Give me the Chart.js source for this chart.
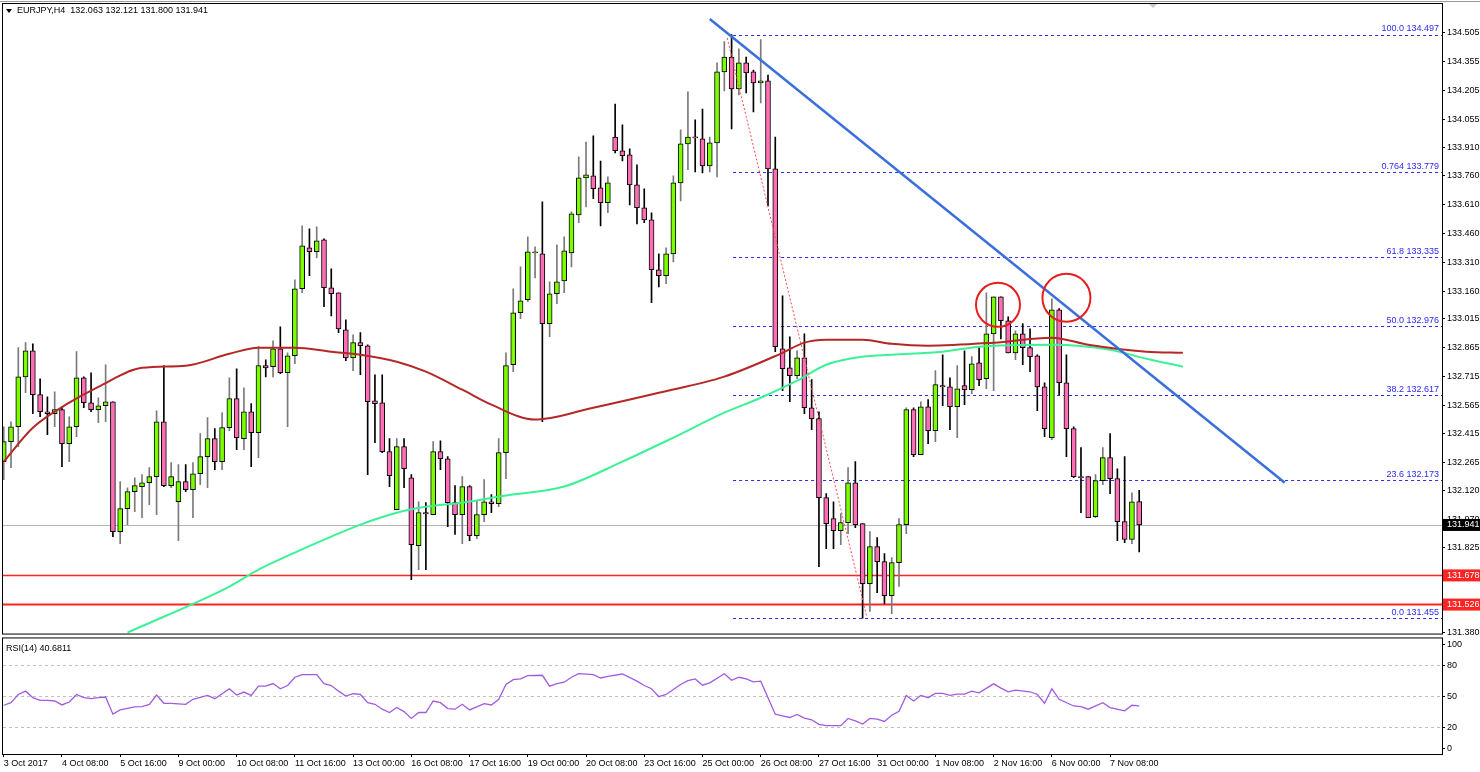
<!DOCTYPE html>
<html>
<head>
<meta charset="utf-8">
<script src="https://cdn.jsdelivr.net/npm/chart.js@4.4.0/dist/chart.umd.min.js"></script>
<style>
  body { margin: 0; background: #fff; }
  #main { position: absolute; left: 0; top: 0; }
  #rsi { position: absolute; left: 0; top: 636px; }
</style>
</head>
<body>
<canvas id="main" width="1480" height="636"></canvas>
<canvas id="rsi" width="1480" height="136"></canvas>
<script>
// EURJPY H4 candles
const open = [132.271,132.375,132.453,132.713,132.849,132.620,132.531,132.521,132.542,132.365,
132.453,132.708,132.578,132.542,132.562,132.583,131.906,132.026,132.115,132.141,
132.161,132.193,132.479,132.146,132.062,132.167,132.125,132.208,132.297,132.391,
132.271,132.448,132.599,132.391,132.531,132.422,132.771,132.766,132.859,132.734,
132.823,133.172,133.385,133.365,133.427,133.177,133.151,132.958,132.812,132.891,
132.875,132.588,132.578,132.323,132.021,132.349,132.187,131.833,132.005,131.995,
132.323,132.286,132.057,131.995,132.141,131.885,131.995,132.062,132.052,132.318,
132.776,133.047,133.115,133.359,133.354,132.990,133.146,133.213,133.359,133.557,
133.750,133.760,133.698,133.620,133.963,133.891,133.870,133.713,133.594,133.531,
133.271,133.240,133.354,133.724,133.927,133.963,133.953,133.812,133.932,134.302,
134.380,134.213,134.349,134.302,134.245,134.255,133.797,132.859,132.760,132.719,
132.812,132.552,132.495,132.083,131.974,131.911,131.953,132.161,131.948,131.635,
131.828,131.750,131.573,131.745,131.943,132.542,132.307,132.557,132.432,132.667,
132.661,132.557,132.667,132.646,132.786,132.703,132.937,133.130,133.005,132.838,
132.937,132.865,132.823,132.661,132.396,133.062,132.682,132.443,132.193,132.193,
131.984,132.172,132.292,132.182,131.958,131.865,132.063];
const high = [132.453,132.479,132.865,132.891,132.885,132.703,132.609,132.635,132.557,132.505,
132.844,132.713,132.734,132.604,132.776,132.583,132.167,132.135,132.187,132.203,
132.240,132.536,132.771,132.266,132.255,132.255,132.266,132.417,132.500,132.443,
132.526,132.708,132.755,132.656,132.573,132.870,132.802,132.901,132.974,132.838,
133.219,133.500,133.484,133.495,133.432,133.276,133.151,133.010,132.932,132.943,
132.880,132.724,132.724,132.391,132.391,132.391,132.203,132.062,132.057,132.375,
132.380,132.297,132.146,132.193,132.146,132.068,132.177,132.099,132.391,132.838,
133.172,133.286,133.443,133.391,133.625,133.208,133.401,133.443,133.573,133.859,
133.937,133.969,133.838,133.755,134.135,134.026,133.901,133.818,133.693,133.568,
133.354,133.385,133.760,134.000,134.198,134.052,134.109,133.963,134.349,134.460,
134.497,134.422,134.380,134.312,134.470,134.286,133.963,133.135,132.922,132.849,
132.937,132.698,132.531,132.104,132.062,132.000,132.240,132.271,131.948,131.906,
131.875,131.792,131.771,131.974,132.552,132.552,132.583,132.594,132.745,132.828,
132.708,132.771,132.849,132.818,132.865,133.151,133.130,133.130,133.026,132.953,
132.990,132.963,132.828,132.682,133.120,133.068,132.828,132.453,132.344,132.193,
132.203,132.344,132.417,132.234,132.297,132.109,132.121];
const low = [132.177,132.240,132.349,132.630,132.521,132.505,132.411,132.453,132.245,132.271,
132.401,132.552,132.531,132.474,132.479,131.880,131.844,131.943,132.010,131.979,
132.047,131.995,132.141,132.135,131.859,132.115,131.979,132.151,132.135,132.229,
132.229,132.432,132.333,132.333,132.245,132.292,132.713,132.713,132.729,132.453,
132.781,133.151,133.240,133.333,133.078,133.031,132.943,132.797,132.745,132.724,
132.203,132.370,132.318,132.141,132.021,132.135,131.656,131.708,131.708,131.995,
132.229,131.932,131.891,131.844,131.859,131.870,131.958,132.005,132.036,132.182,
132.740,133.016,133.104,133.229,132.479,132.922,133.094,133.151,133.286,133.516,
133.599,133.641,133.500,133.568,133.880,133.838,133.609,133.510,133.516,133.099,
133.182,133.198,133.312,133.630,133.792,133.781,133.776,133.781,133.755,134.203,
134.005,134.182,134.193,134.094,134.141,133.604,132.844,132.641,132.583,132.703,
132.521,132.437,131.724,131.818,131.818,131.838,131.896,131.927,131.455,131.490,
131.588,131.531,131.479,131.620,131.896,132.297,132.307,132.365,132.375,132.562,
132.437,132.396,132.568,132.625,132.667,132.651,132.641,132.911,132.838,132.802,
132.776,132.740,132.536,132.401,132.385,132.620,132.297,132.187,132.005,131.979,
131.979,132.151,132.104,131.859,131.849,131.844,131.800];
const close = [132.375,132.453,132.713,132.849,132.620,132.531,132.521,132.542,132.365,132.453,
132.708,132.578,132.542,132.562,132.583,131.906,132.026,132.115,132.146,132.161,
132.193,132.479,132.146,132.193,132.167,132.125,132.208,132.297,132.391,132.271,
132.448,132.599,132.396,132.531,132.422,132.771,132.760,132.859,132.734,132.823,
133.172,133.396,133.365,133.422,133.177,133.146,132.963,132.812,132.891,132.875,
132.583,132.573,132.323,132.198,132.349,132.234,131.838,132.005,131.999,132.323,
132.286,132.057,131.995,132.141,131.885,131.995,132.062,132.052,132.318,132.771,
133.047,133.109,133.365,133.365,132.990,133.146,133.208,133.370,133.562,133.750,
133.766,133.693,133.620,133.724,133.891,133.865,133.713,133.594,133.531,133.271,
133.240,133.354,133.724,133.927,133.963,133.958,133.812,133.932,134.302,134.380,
134.213,134.349,134.297,134.245,134.255,133.797,132.870,132.755,132.719,132.812,
132.552,132.495,132.083,131.948,131.911,131.953,132.161,131.943,131.635,131.828,
131.750,131.573,131.745,131.943,132.542,132.307,132.557,132.432,132.672,132.661,
132.557,132.651,132.646,132.781,132.698,132.937,133.130,133.005,132.838,132.937,
132.865,132.818,132.661,132.443,133.062,132.682,132.443,132.193,132.187,131.979,
132.172,132.292,132.182,131.958,131.865,132.062,131.941];

// moving averages, sampled along the drawn curves
const maSlowIdx = [0,4,9,13,19,25,31,35,40,45,49,54,58,63,67,73,81,90,99,107,110,113,118,122,127,136,144,149,157,162];
const maSlowVal = [132.271,132.448,132.578,132.661,132.760,132.771,132.833,132.865,132.865,132.844,132.828,132.792,132.740,132.646,132.568,132.490,132.552,132.630,132.714,132.838,132.891,132.906,132.906,132.885,132.875,132.891,132.917,132.880,132.844,132.838];
const maLongIdx = [17,31,35,40,45,49,54,58,63,69,77,85,92,99,104,109,113,118,122,129,134,144,152,157,162];
const maLongVal = [131.380,131.620,131.708,131.797,131.880,131.943,132.005,132.036,132.057,132.094,132.141,132.271,132.396,132.526,132.604,132.693,132.776,132.818,132.828,132.844,132.870,132.880,132.854,132.807,132.766];

// RSI(14)
const rsiIdx = [0,1,2,3,4,5,6,7,8,9,10,11,12,13,14,15,16,18,19,20,21,22,23,25,26,28,29,31,32,33,34,35,36,37,38,39,40,41,43,44,45,46,47,48,49,50,51,52,53,54,55,56,57,58,59,60,61,62,63,64,66,67,68,69,70,71,72,
74,75,76,77,78,79,80,81,82,83,85,87,88,89,90,91,93,94,95,96,97,99,100,101,102,103,104,105,106,107,108,109,110,111,112,113,115,116,117,118,119,120,121,122,123,124,125,126,127,128,129,130,131,132,133,134,136,137,138,139,141,142,143,144,145,147,148,149,151,152,154,155,156];
const rsiVal = [41.3,43.8,51.7,54.9,48.6,46.0,46.0,45.4,41.6,44.4,51.7,48.6,47.6,48.6,49.2,32.7,36.8,39.7,40.0,42.2,51.1,43.2,43.2,42.2,47.0,50.8,47.6,57.2,51.1,54.0,50.8,59.7,59.7,62.2,57.2,60.3,68.3,70.8,70.8,62.2,60.3,54.9,50.2,52.4,51.7,43.8,42.2,37.5,34.3,39.1,35.2,28.6,34.3,34.3,45.4,43.8,38.1,37.5,42.2,36.8,42.9,41.6,47.0,61.3,66.0,66.7,69.8,
70.2,59.7,62.2,63.5,68.3,71.7,71.4,70.8,67.6,69.2,71.4,64.5,60.3,57.2,49.5,51.7,61.3,65.1,66.7,60.6,62.9,71.7,65.4,68.3,66.7,63.8,64.5,48.6,32.7,31.1,29.5,32.4,28.9,27.3,22.9,21.6,21.6,28.6,26.3,23.2,28.6,28.0,25.7,31.7,35.5,50.8,45.4,50.8,48.6,52.7,52.7,50.8,52.1,52.1,54.9,53.3,61.9,57.8,54.3,55.9,54.3,51.7,43.2,57.2,47.0,40.6,40.0,37.5,43.8,39.1,35.9,41.3,40.7];

// axis labels
const priceTicks = [134.505,134.355,134.205,134.055,133.910,133.760,133.610,133.460,133.310,133.160,133.015,132.865,132.715,132.565,132.415,132.265,132.120,131.970,131.825,131.380];
const dateLabels = ["3 Oct 2017","4 Oct 08:00","5 Oct 16:00","9 Oct 00:00","10 Oct 08:00","11 Oct 16:00","13 Oct 00:00","16 Oct 08:00","17 Oct 16:00","19 Oct 00:00","20 Oct 08:00","23 Oct 16:00","25 Oct 00:00","26 Oct 08:00","27 Oct 16:00","31 Oct 00:00","1 Nov 08:00","2 Nov 16:00","6 Nov 00:00","7 Nov 08:00"];
const rsiTicks = [0,20,50,80,100];

// drawn objects
const fibNames = ["100.0","0.764","61.8","50.0","38.2","23.6","0.0"];
const fibPrices = [134.497,133.779,133.335,132.976,132.617,132.173,131.455];
const supportLines = [131.678,131.526];
const lastPrice = 131.941;
const trendBlue = [[97,134.578],[176,132.161]];
const trendRed = [[99.4,134.479],[118.6,131.458]];
const circles = [[136.6,133.088,22],[146,133.125,24]];

const FONT = "Liberation Sans";
const XMIN = -0.1, XMAX = 197.6;

const wicks = open.map((o, i) => ({x: i, y: [low[i], high[i]]}));
const bodies = open.map((o, i) => ({x: i, y: [Math.min(o, close[i]), Math.max(o, close[i])]}));
const up = open.map((o, i) => close[i] >= o);

const overlay = {
  id: "overlay",
  beforeDatasetsDraw(chart) {
    const {ctx, chartArea: a, scales: {x, y}} = chart;
    ctx.save();
    ctx.beginPath(); ctx.rect(a.left, a.top, a.right - a.left, a.bottom - a.top); ctx.clip();
    // last price
    ctx.strokeStyle = "#b4b4b4"; ctx.lineWidth = 1;
    let py = Math.round(y.getPixelForValue(lastPrice)) + 0.5;
    ctx.beginPath(); ctx.moveTo(a.left, py); ctx.lineTo(a.right, py); ctx.stroke();
    // fib
    ctx.strokeStyle = "#2b2bf0"; ctx.setLineDash([3, 3]);
    const fx = x.getPixelForValue(100.2);
    fibPrices.forEach(p => {
      const yy = Math.round(y.getPixelForValue(p)) + 0.5;
      ctx.beginPath(); ctx.moveTo(fx, yy); ctx.lineTo(a.right, yy); ctx.stroke();
    });
    ctx.setLineDash([]);
    // supports
    ctx.strokeStyle = "#ff2424";
    supportLines.forEach((p, k) => {
      ctx.lineWidth = k ? 2 : 1.5;
      const yy = y.getPixelForValue(p);
      ctx.beginPath(); ctx.moveTo(a.left, yy); ctx.lineTo(a.right, yy); ctx.stroke();
    });
    ctx.restore();
  },
  afterDatasetsDraw(chart) {
    const {ctx, chartArea: a, scales: {x, y}} = chart;
    ctx.save();
    // red dotted fib line
    ctx.strokeStyle = "#ff4a4a"; ctx.lineWidth = 1; ctx.setLineDash([2, 2]);
    ctx.beginPath();
    ctx.moveTo(x.getPixelForValue(trendRed[0][0]), y.getPixelForValue(trendRed[0][1]));
    ctx.lineTo(x.getPixelForValue(trendRed[1][0]), y.getPixelForValue(trendRed[1][1]));
    ctx.stroke(); ctx.setLineDash([]);
    // blue trend line
    ctx.strokeStyle = "#3b6fdc"; ctx.lineWidth = 2.5;
    ctx.beginPath();
    ctx.moveTo(x.getPixelForValue(trendBlue[0][0]), y.getPixelForValue(trendBlue[0][1]));
    ctx.lineTo(x.getPixelForValue(trendBlue[1][0]), y.getPixelForValue(trendBlue[1][1]));
    ctx.stroke();
    // circles
    ctx.strokeStyle = "#e81e1e"; ctx.lineWidth = 2;
    circles.forEach(c => {
      ctx.beginPath();
      ctx.arc(x.getPixelForValue(c[0]), y.getPixelForValue(c[1]), c[2], 0, Math.PI * 2);
      ctx.stroke();
    });
    // fib labels
    ctx.font = "9px " + FONT; ctx.fillStyle = "#2b2bf0"; ctx.textAlign = "right"; ctx.textBaseline = "bottom";
    fibPrices.forEach((p, k) => {
      ctx.fillText(fibNames[k] + " " + p.toFixed(3), a.right - 3, y.getPixelForValue(p) - 1);
    });
    ctx.restore();
  },
  afterDraw(chart) {
    const {ctx, chartArea: a, scales: {y}} = chart;
    ctx.save();
    // frame
    ctx.strokeStyle = "#000"; ctx.lineWidth = 1;
    ctx.strokeRect(a.left - 0.5, a.top - 0.5, a.right - a.left + 1, a.bottom - a.top + 1);
    ctx.strokeStyle = "#9a9a9a";
    ctx.beginPath(); ctx.moveTo(0, 1.5); ctx.lineTo(1480, 1.5); ctx.stroke();
    // header
    ctx.fillStyle = "#000"; ctx.font = "9px " + FONT; ctx.textBaseline = "middle"; ctx.textAlign = "left";
    ctx.beginPath(); ctx.moveTo(6, 9); ctx.lineTo(12, 9); ctx.lineTo(9, 13); ctx.closePath(); ctx.fill();
    ctx.fillText("EURJPY,H4  132.063 132.121 131.800 131.941", 17, 11);
    ctx.fillStyle = "#c8c8c8";
    ctx.beginPath(); ctx.moveTo(1149, 4); ctx.lineTo(1157, 4); ctx.lineTo(1153, 8); ctx.closePath(); ctx.fill();
    // price boxes
    const box = (p, bg) => {
      const yy = y.getPixelForValue(p);
      ctx.fillStyle = bg; ctx.fillRect(a.right + 1, yy - 6, 38, 12);
      ctx.fillStyle = "#fff"; ctx.textAlign = "left";
      ctx.fillText(p.toFixed(3), a.right + 5, yy);
    };
    supportLines.forEach(p => box(p, "#ff2424"));
    box(lastPrice, "#000");
    ctx.restore();
  }
};

new Chart(document.getElementById("main"), {
  type: "bar",
  data: {
    datasets: [
      { type: "line", data: maSlowIdx.map((v, k) => ({x: v, y: maSlowVal[k]})), borderColor: "#b42828", borderWidth: 2, pointRadius: 0, cubicInterpolationMode: "monotone", order: 0 },
      { type: "line", data: maLongIdx.map((v, k) => ({x: v, y: maLongVal[k]})), borderColor: "#3cf296", borderWidth: 2, pointRadius: 0, cubicInterpolationMode: "monotone", order: 0 },
      { data: bodies, backgroundColor: up.map(u => u ? "#7cfc00" : "#ff6eb4"), borderColor: "#000", borderWidth: 1, borderSkipped: false, barThickness: 5, minBarLength: 1, grouped: false, order: 1 },
      { data: wicks, backgroundColor: up.map(u => u ? "#7a7a7a" : "#000"), barThickness: 1, grouped: false, order: 2 }
    ]
  },
  options: {
    responsive: false, animation: false, devicePixelRatio: 1,
    layout: { autoPadding: false, padding: { left: 3, top: 4, bottom: 2, right: 0 } },
    plugins: { legend: { display: false }, tooltip: { enabled: false } },
    scales: {
      x: { type: "linear", min: XMIN, max: XMAX, offset: false, display: false },
      y: {
        position: "right", min: 131.375, max: 134.656,
        afterBuildTicks: ax => { ax.ticks = priceTicks.map(v => ({value: v})); },
        afterFit: ax => { ax.width = 38; },
        grid: { drawOnChartArea: false, tickLength: 3, color: "#000" },
        border: { color: "#000" },
        ticks: { color: "#000", font: { family: FONT, size: 9, lineHeight: 0.1 }, padding: 2, callback: v => v.toFixed(3) }
      }
    }
  },
  plugins: [overlay]
});

const rsiOverlay = {
  id: "rsiOverlay",
  beforeDatasetsDraw(chart) {
    const {ctx, chartArea: a, scales: {y}} = chart;
    ctx.save();
    ctx.strokeStyle = "#c0c0c0"; ctx.lineWidth = 1; ctx.setLineDash([3, 3]);
    [20, 50, 80].forEach(v => {
      const yy = Math.round(y.getPixelForValue(v)) + 0.5;
      ctx.beginPath(); ctx.moveTo(a.left, yy); ctx.lineTo(a.right, yy); ctx.stroke();
    });
    ctx.restore();
  },
  afterDraw(chart) {
    const {ctx, chartArea: a} = chart;
    ctx.save();
    ctx.strokeStyle = "#000"; ctx.lineWidth = 1;
    ctx.strokeRect(a.left - 0.5, a.top - 0.5, a.right - a.left + 1, a.bottom - a.top + 1);
    ctx.fillStyle = "#000"; ctx.font = "9px " + FONT; ctx.textBaseline = "middle";
    ctx.fillText("RSI(14) 40.6811", 6, a.top + 10);
    ctx.restore();
  }
};

new Chart(document.getElementById("rsi"), {
  type: "line",
  data: {
    datasets: [{ data: rsiIdx.map((v, k) => ({x: v, y: rsiVal[k]})), borderColor: "#a25be0", borderWidth: 1.3, pointRadius: 0, tension: 0 }]
  },
  options: {
    responsive: false, animation: false, devicePixelRatio: 1,
    layout: { autoPadding: false, padding: { left: 3, top: 1, bottom: 0, right: 0 } },
    plugins: { legend: { display: false }, tooltip: { enabled: false } },
    scales: {
      x: {
        type: "linear", min: XMIN, max: XMAX, offset: false,
        afterBuildTicks: ax => { ax.ticks = dateLabels.map((d, k) => ({value: k * 8})); },
        afterFit: ax => { ax.height = 18; },
        grid: { drawOnChartArea: false, tickLength: 3, color: "#000" },
        border: { color: "#000" },
        ticks: { color: "#000", font: { family: FONT, size: 9 }, padding: 1, align: "start", maxRotation: 0, autoSkip: false,
          callback: v => dateLabels[Math.round(v / 8)] }
      },
      y: {
        position: "right", min: -5.7, max: 105.7,
        afterBuildTicks: ax => { ax.ticks = rsiTicks.map(v => ({value: v})); },
        afterFit: ax => { ax.width = 38; },
        grid: { drawOnChartArea: false, tickLength: 3, color: "#000" },
        border: { color: "#000" },
        ticks: { color: "#000", font: { family: FONT, size: 9, lineHeight: 0.1 }, padding: 2 }
      }
    }
  },
  plugins: [rsiOverlay]
});
</script>
</body>
</html>
